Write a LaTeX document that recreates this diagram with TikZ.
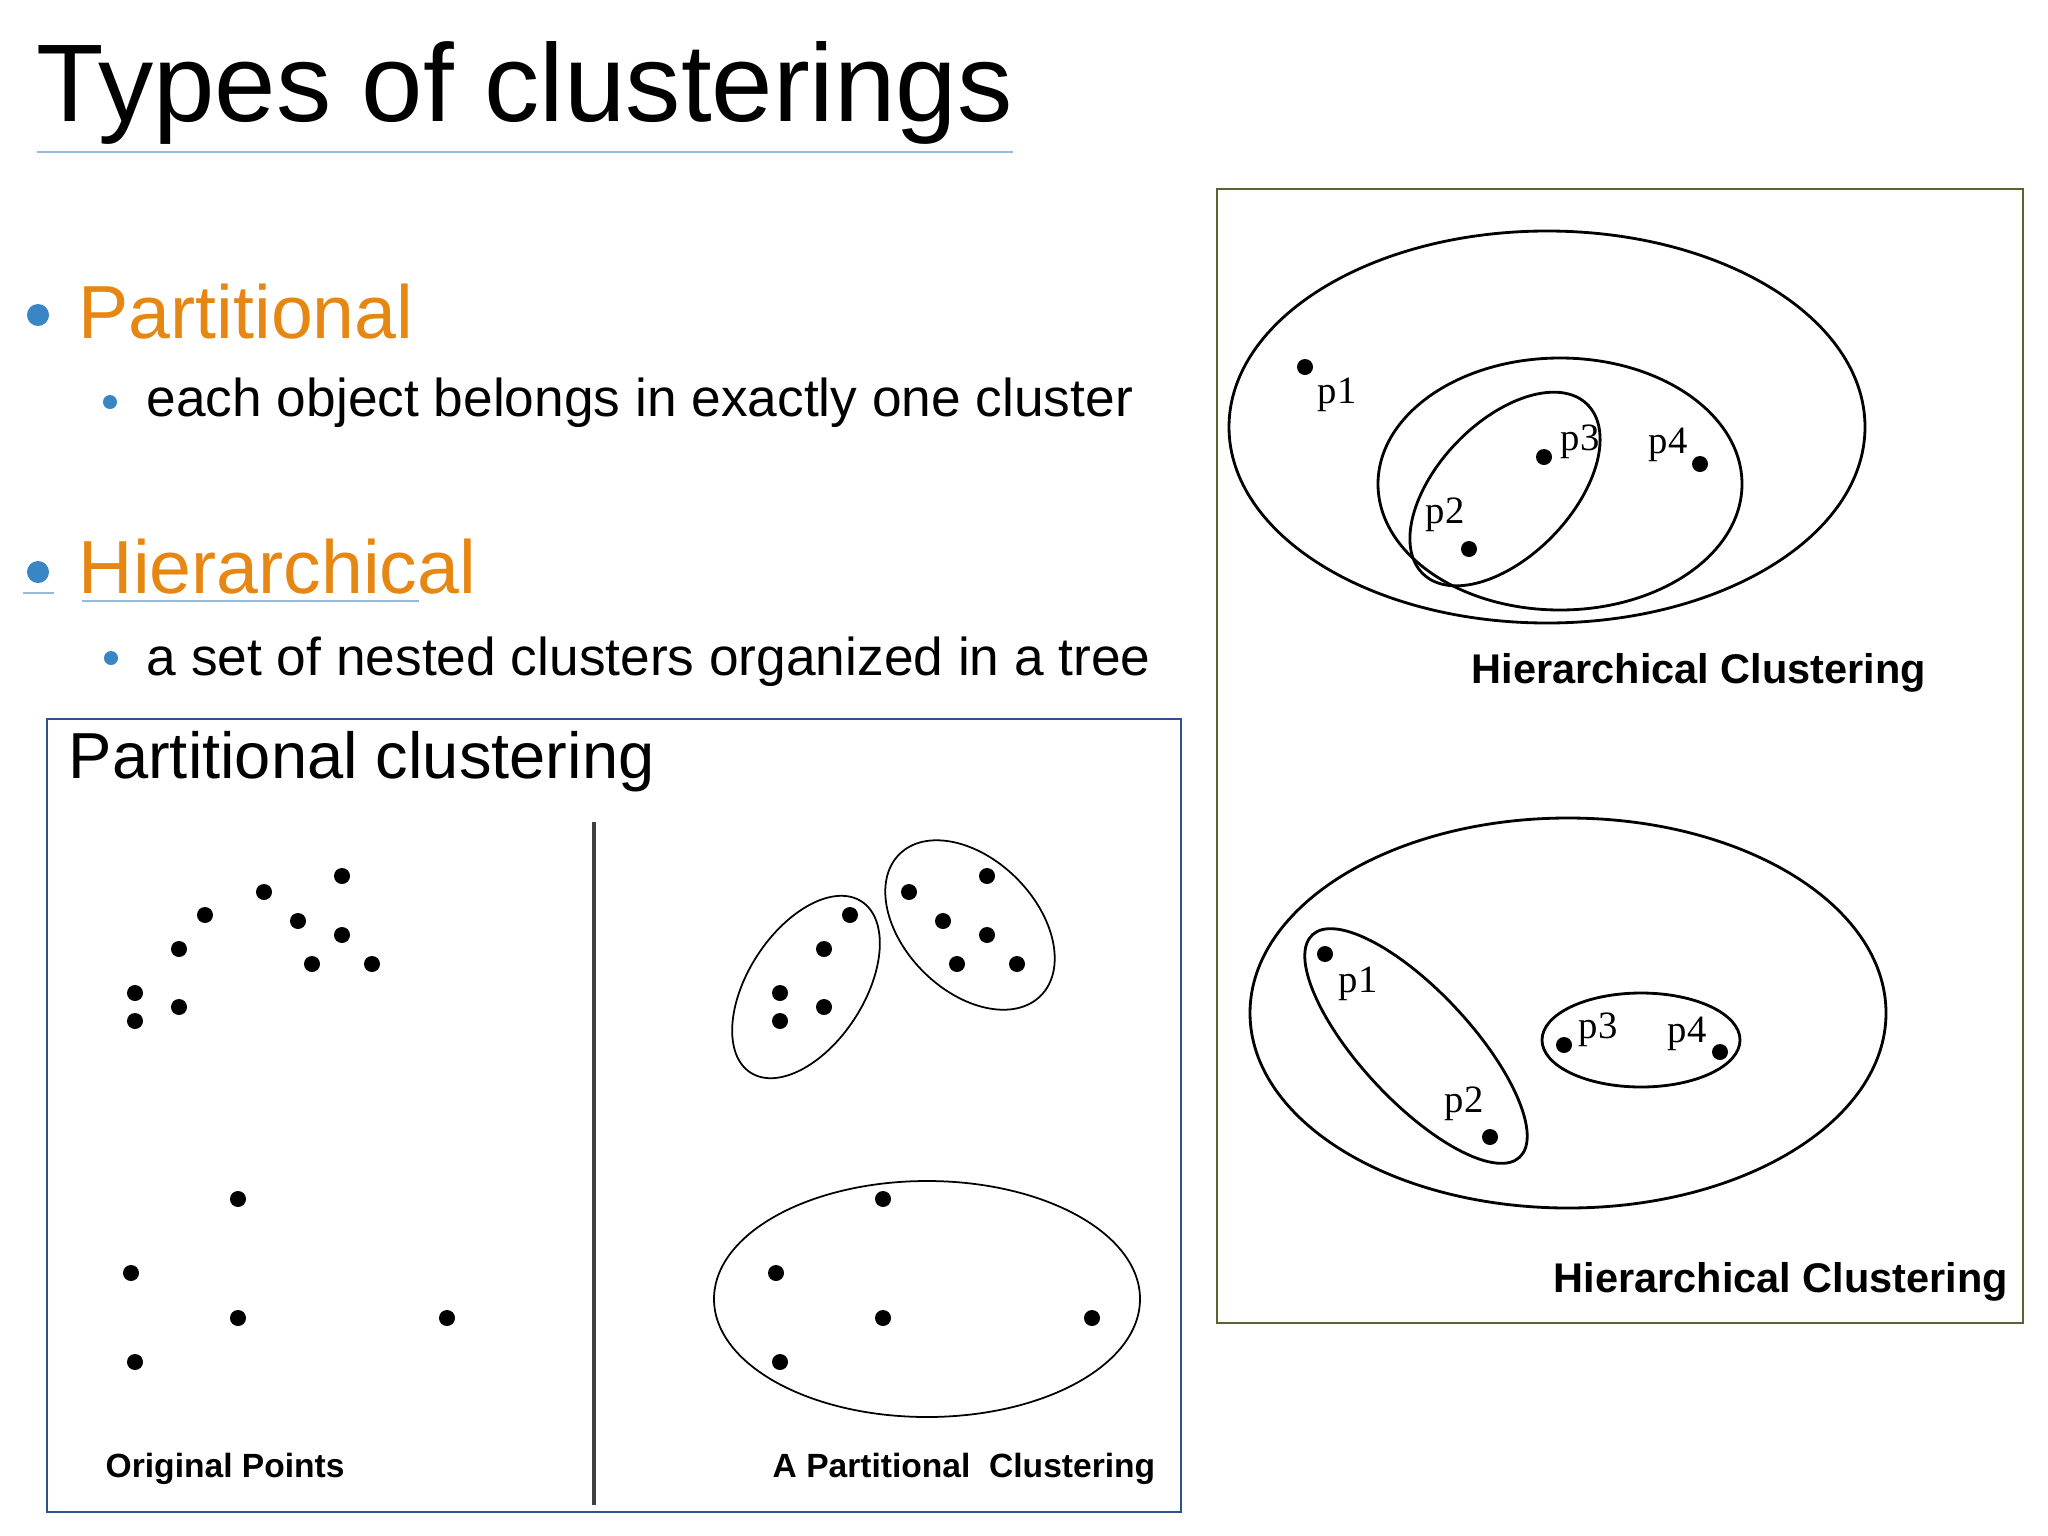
\documentclass[tikz,border=0pt]{standalone}
\usepackage{fontspec}
\setmainfont{Liberation Sans}
\newfontfamily\pfont{Liberation Serif}
\usetikzlibrary{positioning}
\definecolor{bulletBlue}{RGB}{58, 133, 198}
\definecolor{headOrange}{RGB}{230, 135, 20}
\definecolor{lineBlue}{RGB}{150, 185, 215}
\definecolor{frameBlue}{RGB}{47, 82, 143}
\definecolor{frameOlive}{RGB}{91, 101, 50}
\tikzset{
    x=0.01cm, y=-0.01cm, % 一个单位 = 参考图的一个像素
    %
    % 文字
    txt/.style={inner sep=0pt, anchor=base west},
    headTxt/.style={txt, text=headOrange, font=\fontsize{21.4}{25}\selectfont},
    bodyTxt/.style={txt, font=\fontsize{15.15}{18}\selectfont},
    capTxt/.style={txt, font=\bfseries\fontsize{9.55}{12}\selectfont},
    hcapTxt/.style={txt, font=\bfseries\fontsize{11.8}{14}\selectfont},
    pLabel/.style={inner sep=0pt, font=\pfont\fontsize{11}{12}\selectfont},
    %
    % 圆点
    bigBullet/.style={circle, fill=bulletBlue, inner sep=0pt, minimum size=0.22cm},
    smallBullet/.style={circle, fill=bulletBlue, inner sep=0pt, minimum size=0.14cm},
    dot/.style={circle, fill=black, inner sep=0pt, minimum size=0.16cm},
    %
    % 簇
    thinClu/.style={draw=black, line width=0.5pt},
    hierClu/.style={draw=black, line width=0.8pt}
}

\begin{document}
\begin{tikzpicture}

	\useasboundingbox (0,0) rectangle (2048,1536);

	%% 标题
	\node[txt, font=\fontsize{31.4}{36}\selectfont] (title) at (36,121) {Types of clusterings};
	\draw[lineBlue, line width=0.8pt] (37,152) -- (1013,152);

	%% 要点
	\node[bigBullet] (b1) at (38,315) {};
	\node[headTxt] (partHead) at (78,338) {Partitional};
	\node[smallBullet] (s1) at (110,402) {};
	\node[bodyTxt] (partText) at (146,416) {each object belongs in exactly one cluster};

	\node[bigBullet] (b2) at (38,572) {};
	\node[headTxt] (hierHead) at (78,593) {Hierarchical};
	\draw[lineBlue, line width=0.8pt] (23,593) -- (54,593);
	\draw[lineBlue, line width=0.8pt] (82,601) -- (419,601);
	\node[smallBullet] (s2) at (111,658) {};
	\node[bodyTxt] (hierText) at (146,675) {a set of nested clusters organized in a tree};

	%% 划分聚类
	\draw[frameBlue, line width=0.7pt] (47,719) rectangle (1181,1512);
	\node[txt, font=\fontsize{18.5}{22}\selectfont] (pcTitle) at (68,778) {Partitional clustering};
	\draw[black!75, line width=1.1pt] (594,822) -- (594,1505);

	\foreach \px/\py [count=\i] in {342/876, 264/892, 205/915, 298/921, 342/935,
	        179/949, 312/964, 372/964, 135/993, 179/1007, 135/1021,
	        238/1199, 131/1273, 238/1318, 447/1318, 135/1362} {
		\node[dot] (o\i) at (\px,\py) {};
		\node[dot] (c\i) at (\px+645,\py) {};
	}

	\draw[thinClu, rotate around={57:(806,987)}] (806,987) ellipse (102 and 58);
	\draw[thinClu, rotate around={-45:(970,925)}] (970,925) ellipse (100 and 66);
	\draw[thinClu] (927,1299) ellipse (213 and 118);

	\node[capTxt] (origCap) at (105,1477) {Original Points};
	\node[capTxt] (partCap) at (772,1477) {A Partitional\ \ Clustering};

	%% 层次聚类
	\draw[frameOlive, line width=0.7pt] (1217,189) rectangle (2023,1323);

	% 上：嵌套
	\draw[hierClu] (1547,427) ellipse (318 and 196);
	\draw[hierClu] (1560,484) ellipse (182 and 126);
	\draw[hierClu, rotate around={46:(1505,489)}] (1505,489) ellipse (118 and 67);

	\node[dot] (u1) at (1305,367) {};
	\node[dot] (u2) at (1469,549) {};
	\node[dot] (u3) at (1544,457) {};
	\node[dot] (u4) at (1700,464) {};
	\node[pLabel] (lu1) at (1337,395) {p1};
	\node[pLabel] (lu2) at (1445,515) {p2};
	\node[pLabel] (lu3) at (1580,442) {p3};
	\node[pLabel] (lu4) at (1668,445) {p4};
	\node[hcapTxt] (hierCapA) at (1471,683) {Hierarchical Clustering};

	% 下：分组
	\draw[hierClu] (1568,1013) ellipse (318 and 195);
	\draw[hierClu, rotate around={-47:(1416,1046)}] (1416,1046) ellipse (152 and 55);
	\draw[hierClu] (1641,1040) ellipse (99 and 47);

	\node[dot] (d1) at (1325,954) {};
	\node[dot] (d2) at (1490,1137) {};
	\node[dot] (d3) at (1564,1045) {};
	\node[dot] (d4) at (1720,1052) {};
	\node[pLabel] (ld1) at (1358,984) {p1};
	\node[pLabel] (ld2) at (1464,1104) {p2};
	\node[pLabel] (ld3) at (1598,1030) {p3};
	\node[pLabel] (ld4) at (1687,1034) {p4};
	\node[hcapTxt] (hierCapB) at (1553,1292) {Hierarchical Clustering};

\end{tikzpicture}
\end{document}
